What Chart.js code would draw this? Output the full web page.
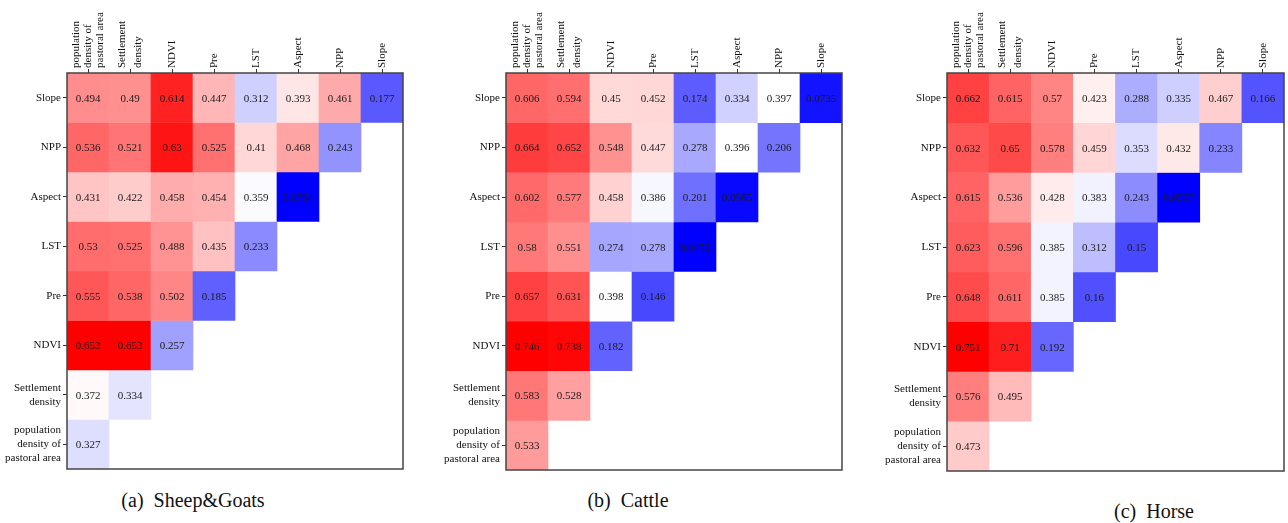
<!DOCTYPE html>
<html>
<head>
<meta charset="utf-8">
<script src="https://cdn.jsdelivr.net/npm/chart.js@4.4.1/dist/chart.umd.min.js"></script>
<style>
  body { margin: 0; background: #fff; width: 1288px; height: 523px; overflow: hidden; position: relative; font-family: "Liberation Serif", "Times New Roman", serif; }
  .panel { position: absolute; top: 0; }
  .caption { position: absolute; font-size: 20px; color: #111; white-space: pre; transform: translate(-50%, -50%); }
</style>
</head>
<body>
<div class="panel" style="left:0;width:406px;height:478px"><canvas id="c1"></canvas></div>
<div class="panel" style="left:430px;width:415px;height:479px"><canvas id="c2"></canvas></div>
<div class="panel" style="left:868px;width:419px;height:480px"><canvas id="c3"></canvas></div>
<div class="caption" style="left:193px;top:500px">(a)  Sheep&amp;Goats</div>
<div class="caption" style="left:628px;top:500px">(b)  Cattle</div>
<div class="caption" style="left:1154px;top:511px">(c)  Horse</div>

<script>
const rows = ["Slope", "NPP", "Aspect", "LST", "Pre", "NDVI", ["Settlement", "density"], ["population", "density of", "pastoral area"]];
const cols = [["population", "density of", "pastoral area"], ["Settlement", "density"], "NDVI", "Pre", "LST", "Aspect", "NPP", "Slope"];

const sheepGoats = [
  [0.494, 0.49, 0.614, 0.447, 0.312, 0.393, 0.461, 0.177],
  [0.536, 0.521, 0.63, 0.525, 0.41, 0.468, 0.243],
  [0.431, 0.422, 0.458, 0.454, 0.359, 0.0764],
  [0.53, 0.525, 0.488, 0.435, 0.233],
  [0.555, 0.538, 0.502, 0.185],
  [0.653, 0.653, 0.257],
  [0.372, 0.334],
  [0.327]
];
const cattle = [
  [0.606, 0.594, 0.45, 0.452, 0.174, 0.334, 0.397, 0.0735],
  [0.664, 0.652, 0.548, 0.447, 0.278, 0.396, 0.206],
  [0.602, 0.577, 0.458, 0.386, 0.201, 0.0585],
  [0.58, 0.551, 0.274, 0.278, 0.0472],
  [0.657, 0.631, 0.398, 0.146],
  [0.746, 0.738, 0.182],
  [0.583, 0.528],
  [0.533]
];
const horse = [
  [0.662, 0.615, 0.57, 0.423, 0.288, 0.335, 0.467, 0.166],
  [0.632, 0.65, 0.578, 0.459, 0.353, 0.432, 0.233],
  [0.615, 0.536, 0.428, 0.383, 0.243, 0.0507],
  [0.623, 0.596, 0.385, 0.312, 0.15],
  [0.648, 0.611, 0.385, 0.16],
  [0.751, 0.71, 0.192],
  [0.576, 0.495],
  [0.473]
];

const serif = "'Liberation Serif', 'Times New Roman', serif";
// line spacing of the rotated top labels, chosen so every label is centred on its tick
const xLineHeight = { 1: "24px", 2: "16px", 3: "12px" };

function colorScale(matrix) {
  const all = matrix.flat();
  const lo = Math.min(...all), hi = Math.max(...all), mid = (lo + hi) / 2;
  return v => {
    if (v >= mid) {
      const c = Math.round(255 * (1 - (v - mid) / (hi - mid)));
      return `rgb(255,${c},${c})`;
    }
    const c = Math.round(255 * (1 - (mid - v) / (mid - lo)));
    return `rgb(${c},${c},255)`;
  };
}

function heatmap(id, matrix, yWidth) {
  const color = colorScale(matrix);

  const cellText = {
    id: "cellText",
    afterDatasetsDraw(chart) {
      const ctx = chart.ctx;
      ctx.save();
      ctx.font = "11px " + serif;
      ctx.fillStyle = "#1a1a1a";
      ctx.textAlign = "center";
      ctx.textBaseline = "middle";
      chart.data.datasets.forEach((ds, r) => {
        chart.getDatasetMeta(r).data.forEach((el, j) => {
          if (j >= matrix[r].length) return;
          const p = el.getCenterPoint();
          ctx.fillText(String(matrix[r][j]), p.x, p.y + 1);
        });
      });
      ctx.restore();
    },
    afterDraw(chart) {
      const { left, top, width, height } = chart.chartArea;
      const ctx = chart.ctx;
      ctx.save();
      ctx.strokeStyle = "#444";
      ctx.lineWidth = 1.5;
      ctx.strokeRect(left, top, width, height);
      ctx.restore();
    }
  };

  new Chart(document.getElementById(id), {
    type: "bar",
    data: {
      labels: cols,
      datasets: matrix.map((row, r) => ({
        data: cols.map((c, j) => (j < row.length ? [r, r + 1] : null)),
        backgroundColor: cols.map((c, j) => (j < row.length ? color(row[j]) : "transparent")),
        borderWidth: 0,
        grouped: false,
        barPercentage: 1,
        categoryPercentage: 1
      }))
    },
    options: {
      responsive: true,
      maintainAspectRatio: false,
      animation: false,
      layout: { padding: { right: 3, bottom: 4 } },
      plugins: { legend: { display: false }, tooltip: { enabled: false } },
      scales: {
        x: {
          position: "top",
          grid: { offset: false, drawOnChartArea: false, tickLength: 4, color: "#333" },
          border: { display: false },
          ticks: {
            minRotation: 90, maxRotation: 90, autoSkip: false, color: "#111", padding: 1,
            labelOffset: 24,
            font: c => {
              const l = cols[c.index];
              const n = Array.isArray(l) ? l.length : 1;
              return { family: serif, size: 11, lineHeight: xLineHeight[n] };
            }
          },
          afterFit: ax => { ax.height = 73; }
        },
        y: {
          type: "linear",
          min: 0,
          max: 8,
          reverse: true,
          afterBuildTicks: ax => { ax.ticks = rows.map((_, i) => ({ value: i + 0.5 })); },
          grid: { drawOnChartArea: false, tickLength: 4, color: "#333" },
          border: { display: false },
          ticks: { autoSkip: false, font: { family: serif, size: 11, lineHeight: "14px" }, color: "#111", padding: 2, callback: (v, i) => rows[i] },
          afterFit: ax => { ax.width = yWidth; }
        }
      }
    },
    plugins: [cellText]
  });
}

document.fonts.load("11px 'Liberation Serif'").finally(() => {
  heatmap("c1", sheepGoats, 67);
  heatmap("c2", cattle, 76);
  heatmap("c3", horse, 79);
});
</script>
</body>
</html>
